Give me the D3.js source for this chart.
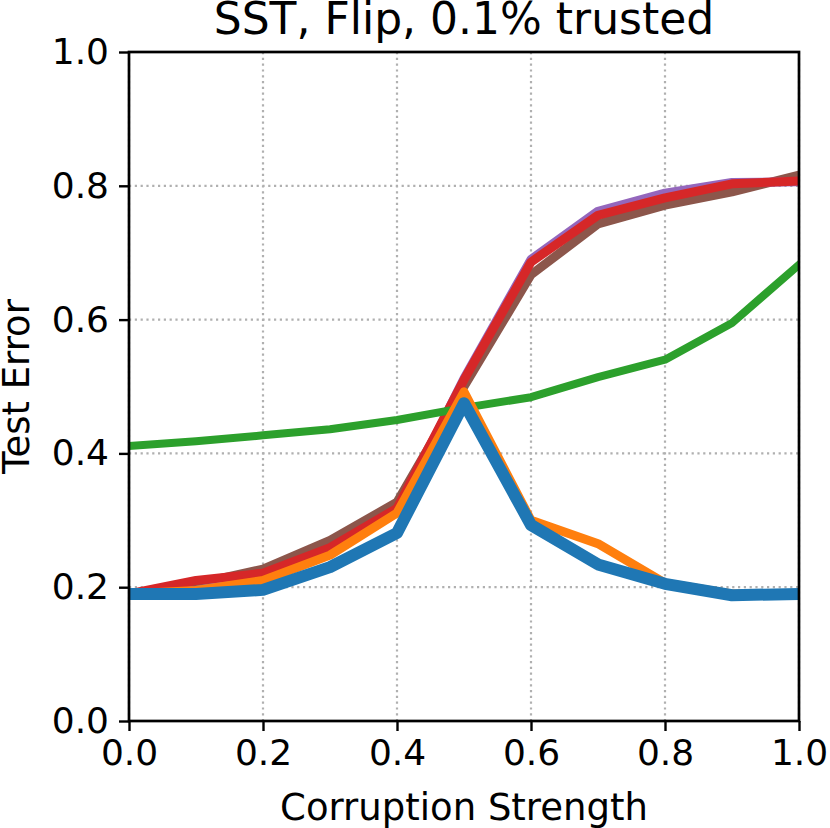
<!DOCTYPE html>
<html><head><meta charset="utf-8">
<script src="https://cdn.jsdelivr.net/npm/d3@7"></script>
<style>html,body{margin:0;padding:0;background:#fff;}</style>
</head><body>
<script>
const xs = [0,0.1,0.2,0.3,0.4,0.5,0.6,0.7,0.8,0.9,1.0];
const brownVals  = [0.19,0.205,0.227,0.270,0.327,0.500,0.667,0.743,0.771,0.791,0.816];
const purpleVals = [0.19,0.195,0.212,0.252,0.312,0.512,0.690,0.762,0.789,0.805,0.806];
const redVals    = [0.19,0.210,0.221,0.259,0.318,0.510,0.686,0.756,0.782,0.803,0.807];
const greenVals  = [0.411,0.418,0.427,0.436,0.450,0.468,0.484,0.514,0.540,0.595,0.682];
const orangeVals = [0.19,0.195,0.210,0.248,0.311,0.492,0.300,0.265,0.206,0.190,0.190];
const blueVals   = [0.19,0.190,0.196,0.230,0.281,0.475,0.293,0.234,0.205,0.188,0.190];
const tickVals = [0,0.2,0.4,0.6,0.8,1.0];
const tickLabels = ["0.0","0.2","0.4","0.6","0.8","1.0"];
const titleText = "SST, Flip, 0.1% trusted";
const xLabel = "Corruption Strength";
const yLabel = "Test Error";

const series = [
  {vals: brownVals,  color: "#8c564b", w: 9},
  {vals: purpleVals, color: "#9467bd", w: 9},
  {vals: redVals,    color: "#d62728", w: 9},
  {vals: greenVals,  color: "#2ca02c", w: 8},
  {vals: orangeVals, color: "#ff7f0e", w: 9},
  {vals: blueVals,   color: "#1f77b4", w: 12}
];

const W = 830, H = 828;
const L = 129, R = 799, T = 52, B = 721;
const font = "DejaVu Sans, sans-serif";

const svg = d3.select("body").append("svg").attr("width", W).attr("height", H);
const x = d3.scaleLinear().domain([0,1]).range([L,R]);
const y = d3.scaleLinear().domain([0,1]).range([B,T]);

// grid
const grid = svg.append("g");
tickVals.forEach(v => {
  grid.append("line").attr("x1", x(v)).attr("x2", x(v)).attr("y1", T).attr("y2", B)
    .attr("stroke", "#b0b0b0").attr("stroke-width", 2.2).attr("stroke-dasharray", "2.2,3.6");
  grid.append("line").attr("y1", y(v)).attr("y2", y(v)).attr("x1", L).attr("x2", R)
    .attr("stroke", "#b0b0b0").attr("stroke-width", 2.2).attr("stroke-dasharray", "2.2,3.6");
});

svg.append("clipPath").attr("id","clip").append("rect")
  .attr("x", L).attr("y", T).attr("width", R-L).attr("height", B-T);

const line = d3.line().x((d,i) => x(xs[i])).y(d => y(d));
const lg = svg.append("g").attr("clip-path","url(#clip)");
series.forEach(s => {
  lg.append("path").attr("d", line(s.vals)).attr("fill","none")
    .attr("stroke", s.color).attr("stroke-width", s.w)
    .attr("stroke-linejoin","round").attr("stroke-linecap","square");
});

// axes
const xAxis = d3.axisBottom(x).tickValues(tickVals).tickFormat((d,i)=>tickLabels[i]).tickSize(10).tickPadding(8);
const yAxis = d3.axisLeft(y).tickValues(tickVals).tickFormat((d,i)=>tickLabels[i]).tickSize(10).tickPadding(10);
const gx = svg.append("g").attr("transform", `translate(0,${B})`).call(xAxis);
const gy = svg.append("g").attr("transform", `translate(${L},0)`).call(yAxis);
[gx, gy].forEach(g => {
  g.select(".domain").remove();
  g.selectAll(".tick line").attr("stroke","#000").attr("stroke-width",2.4);
  g.selectAll(".tick text").attr("fill","#000").style("font-family", font).style("font-size","36px");
});

// spines
svg.append("rect").attr("x", L).attr("y", T).attr("width", R-L).attr("height", B-T)
  .attr("fill","none").attr("stroke","#000").attr("stroke-width",2.7);

svg.append("text").attr("x", (L+R)/2).attr("y", 34).attr("text-anchor","middle")
  .style("font-family", font).style("font-size","44px").text(titleText);
svg.append("text").attr("x", (L+R)/2).attr("y", 820).attr("text-anchor","middle")
  .style("font-family", font).style("font-size","37px").text(xLabel);
svg.append("text").attr("transform", `translate(29,${(T+B)/2}) rotate(-90)`).attr("text-anchor","middle")
  .style("font-family", font).style("font-size","37px").text(yLabel);
</script>
</body></html>
